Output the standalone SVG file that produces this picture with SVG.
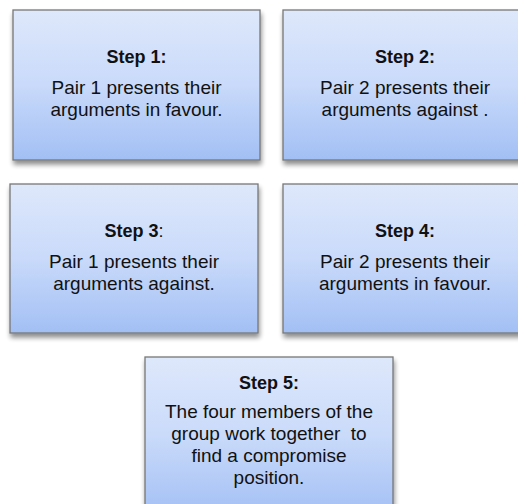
<svg xmlns="http://www.w3.org/2000/svg" width="518" height="504" viewBox="0 0 518 504">
  <defs>
    <linearGradient id="fill" x1="0" y1="0" x2="0" y2="1">
      <stop offset="0" stop-color="#dee8fb"/>
      <stop offset="0.5" stop-color="#c9dafa"/>
      <stop offset="1" stop-color="#a2bff4"/>
    </linearGradient>
    <filter id="shadow" x="-10%" y="-10%" width="130%" height="130%">
      <feGaussianBlur in="SourceAlpha" stdDeviation="2.5"/>
      <feOffset dx="1" dy="4" result="b"/>
      <feComponentTransfer><feFuncA type="linear" slope="0.45"/></feComponentTransfer>
      <feMerge><feMergeNode/><feMergeNode in="SourceGraphic"/></feMerge>
    </filter>
  </defs>
  <style>
    .box { fill: url(#fill); stroke: #777; stroke-width: 1.3; filter: url(#shadow); }
    text { font-family: "Liberation Sans", Arial, sans-serif; font-size: 19px; fill: #111; text-anchor: middle; white-space: pre; }
    .t { font-weight: bold; font-size: 18px; }
  </style>
  <rect width="518" height="504" fill="#fff"/>
  <g id="step1">
    <rect class="box" x="13" y="10" width="247" height="150"/>
    <text class="t" x="136.5" y="63">Step 1:</text>
    <text x="136.5" y="94">Pair 1 presents their</text>
    <text x="136.5" y="116">arguments in favour.</text>
  </g>
  <g id="step2">
    <rect class="box" x="283" y="10" width="245" height="150"/>
    <text class="t" x="405" y="63">Step 2:</text>
    <text x="405" y="94">Pair 2 presents their</text>
    <text x="405" y="116">arguments against .</text>
  </g>
  <g id="step3">
    <rect class="box" x="10" y="184" width="248" height="149"/>
    <text x="134" y="237"><tspan class="t">Step 3</tspan><tspan font-size="18">:</tspan></text>
    <text x="134" y="268">Pair 1 presents their</text>
    <text x="134" y="290">arguments against.</text>
  </g>
  <g id="step4">
    <rect class="box" x="283" y="184" width="245" height="149"/>
    <text class="t" x="405" y="237">Step 4:</text>
    <text x="405" y="268">Pair 2 presents their</text>
    <text x="405" y="290">arguments in favour.</text>
  </g>
  <g id="step5">
    <rect class="box" x="145" y="357" width="248" height="160"/>
    <text class="t" x="269" y="389">Step 5:</text>
    <text x="269" y="418">The four members of the</text>
    <text x="269" y="440">group work together  to</text>
    <text x="269" y="462">find a compromise</text>
    <text x="269" y="484">position.</text>
  </g>
  <g id="connectors"/>
</svg>
